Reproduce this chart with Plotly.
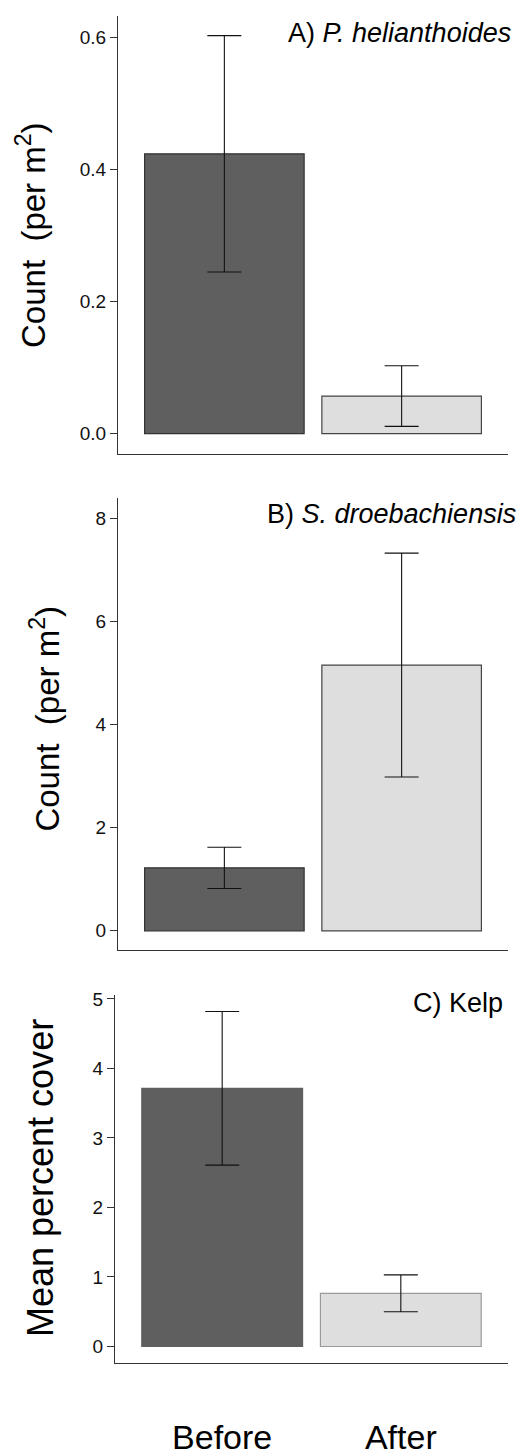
import plotly.graph_objects as go

W, H = 521, 1456

# ---- data ----
categories = ["Before", "After"]
a_means = [0.424, 0.057]
a_se = [0.179, 0.046]
b_means = [1.22, 5.15]
b_se = [0.40, 2.17]
c_means = [3.715, 0.765]
c_se = [1.105, 0.265]

a_tickvals = [0.0, 0.2, 0.4, 0.6]
a_ticktext = ["0.0", "0.2", "0.4", "0.6"]
b_tickvals = [0, 2, 4, 6, 8]
b_ticktext = ["0", "2", "4", "6", "8"]
c_tickvals = [0, 1, 2, 3, 4, 5]
c_ticktext = ["0", "1", "2", "3", "4", "5"]

panel_labels = ["A) <i>P. helianthoides</i>", "B) <i>S. droebachiensis</i>", "C) Kelp"]
y_titles = ["Count\u00a0\u00a0(per m<sup>2</sup>)", "Count\u00a0\u00a0(per m<sup>2</sup>)", "Mean percent cover"]

# ---- styles ----
FONT = "Liberation Sans, Arial, Helvetica, sans-serif"
fill_colors = ["#5f5f5f", "#dedede"]
line_colors_ab = ["#333333", "#444444"]
line_colors_c = ["#5f5f5f", "#9a9a9a"]


def px_x(p):
    return p / W


def px_y(p):
    return 1 - p / H


# pixel geometry: (x_left, x_right, y_top, y_bottom)
panels = [
    dict(x=(118, 508), y=(10, 455), rng=[-0.031, 0.633], tv=a_tickvals, tt=a_ticktext,
         means=a_means, se=a_se, lc=line_colors_ab),
    dict(x=(118, 508), y=(500, 958), rng=[-0.363, 8.38], tv=b_tickvals, tt=b_ticktext,
         means=b_means, se=b_se, lc=line_colors_ab),
    dict(x=(115, 508), y=(1004, 1378), rng=[-0.24, 5.06], tv=c_tickvals, tt=c_ticktext,
         means=c_means, se=c_se, lc=line_colors_c),
]

fig = go.Figure()
layout = dict(
    width=W, height=H,
    margin=dict(l=0, r=0, t=0, b=0),
    paper_bgcolor="white", plot_bgcolor="white",
    showlegend=False,
    font=dict(family=FONT, color="black"),
    bargap=0.1,
)

for i, p in enumerate(panels):
    n = "" if i == 0 else str(i + 1)
    fig.add_trace(go.Bar(
        x=categories, y=p["means"],
        xaxis="x" + n, yaxis="y" + n,
        width=0.9,
        marker=dict(color=fill_colors, line=dict(color=p["lc"], width=1.2)),
        error_y=dict(type="data", array=p["se"], visible=True,
                     color="#111111", thickness=1.1, width=17),
        hoverinfo="skip",
    ))
    last = i == 2
    layout["xaxis" + n] = dict(
        domain=[px_x(p["x"][0]), px_x(p["x"][1])],
        anchor="y" + n,
        type="category",
        range=[-0.6, 1.6],
        showline=True, linecolor="#333333", linewidth=1.2,
        showgrid=False, zeroline=False,
        ticks="",
        showticklabels=last,
        tickfont=dict(size=34, family=FONT, color="black"),
        ticklabelstandoff=44,
        fixedrange=True,
    )
    layout["yaxis" + n] = dict(
        domain=[px_y(p["y"][1]), px_y(p["y"][0])],
        anchor="x" + n,
        range=p["rng"],
        showline=True, linecolor="#333333", linewidth=1.2,
        showgrid=False, zeroline=False,
        ticks="outside", ticklen=7, tickwidth=1.2, tickcolor="#333333",
        tickvals=p["tv"], ticktext=p["tt"],
        tickfont=dict(size=19, family=FONT, color="#111111"),
        fixedrange=True,
    )

annotations = []
# panel labels (right-aligned)
label_pos = [(513, 27), (518, 516), (505, 1012)]
for txt, (xp, yp) in zip(panel_labels, label_pos):
    annotations.append(dict(
        text=txt, xref="paper", yref="paper", x=px_x(xp), y=px_y(yp),
        xanchor="right", yanchor="middle", showarrow=False,
        font=dict(size=27, family=FONT, color="black"),
    ))
# y-axis titles
title_pos = [(31.5, 233, 33), (45.5, 724, 33), (40, 1190, 36)]
for txt, (xp, yp, fs) in zip(y_titles, title_pos):
    annotations.append(dict(
        text=txt, xref="paper", yref="paper", x=px_x(xp), y=px_y(yp),
        xanchor="center", yanchor="middle", showarrow=False, textangle=-90,
        font=dict(size=fs, family=FONT, color="black"),
    ))

layout["annotations"] = annotations
fig.update_layout(**layout)
fig.write_html("out.html")
